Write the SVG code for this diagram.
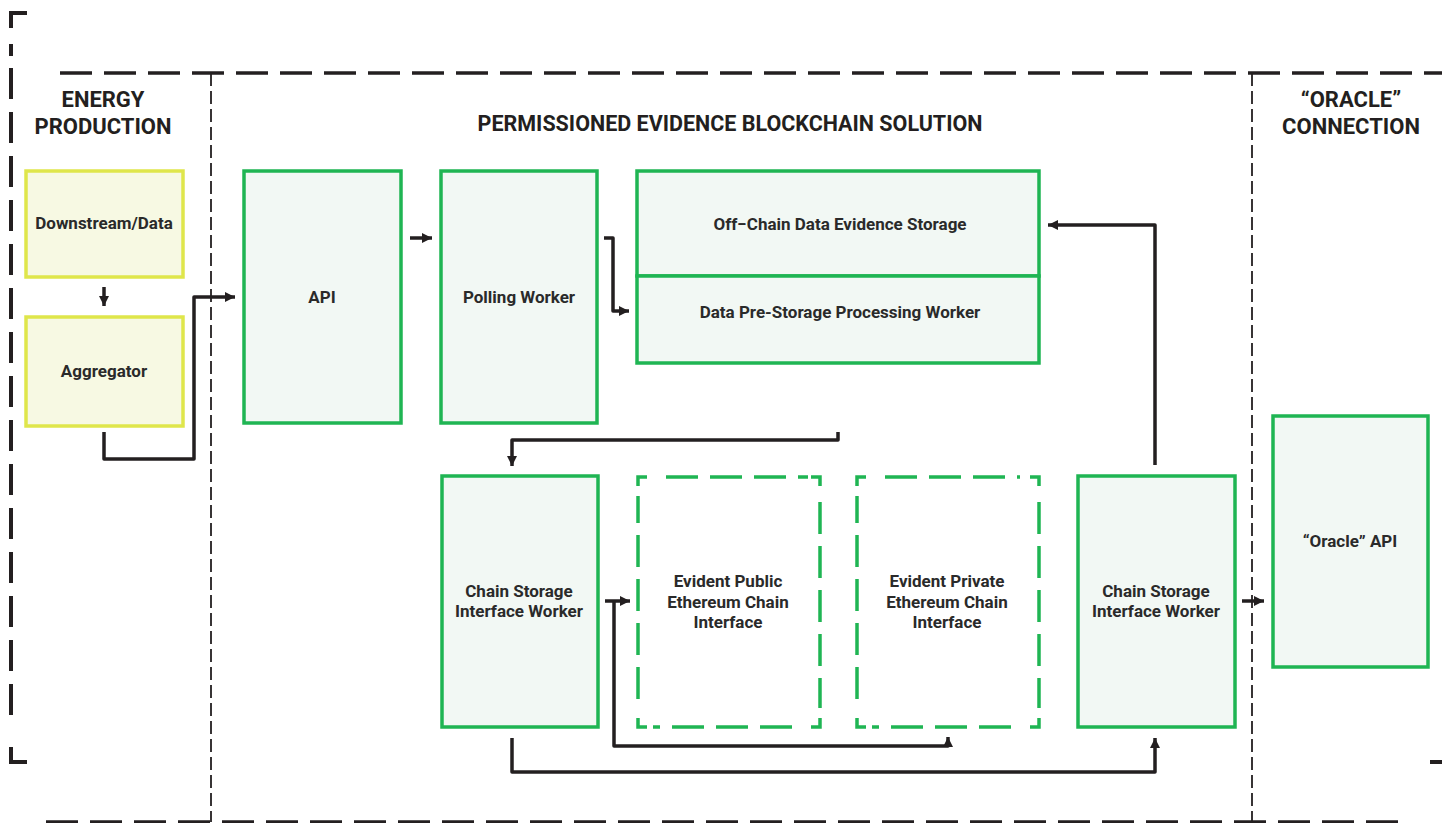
<svg xmlns="http://www.w3.org/2000/svg" width="1442" height="823" viewBox="0 0 1442 823">
<style>
.frame{fill:none;stroke:#231f20;stroke-width:4}
.inner{fill:none;stroke:#231f20;stroke-width:3.5;stroke-dasharray:32 12}
.divider{fill:none;stroke:#231f20;stroke-width:1.8;stroke-dasharray:13 5}
.hdr{font-family:Roboto,"Liberation Sans",sans-serif;font-weight:700;font-size:22px;fill:#231f20;text-anchor:middle}
.lbl{font-family:Roboto,"Liberation Sans",sans-serif;font-weight:700;font-size:17px;fill:#2a2a2a;text-anchor:middle}
.yel{fill:#f7f9e3;stroke:#dfe64b;stroke-width:3.5}
.grn{fill:#f2f8f4;stroke:#1fb553;stroke-width:3.5}
.gcorner{fill:none;stroke:#1fb553;stroke-width:3.5}
.gside{fill:none;stroke:#1fb553;stroke-width:3.5;stroke-dasharray:32 12}
.conn{fill:none;stroke:#231f20;stroke-width:3.5;stroke-linejoin:round}
</style>
<defs>
<marker id="ah" markerUnits="userSpaceOnUse" markerWidth="13" markerHeight="13" refX="10" refY="5.5" orient="auto">
<path d="M0,0.5 L10,5.5 L0,10.5 z" fill="#231f20"/>
</marker>
</defs>

<g id="frames">
<path class="frame" d="M27,13 H11 V28"/>
<path class="frame" d="M11,44 V56"/>
<path class="frame" d="M11,68 V716" stroke-dasharray="31 13"/>
<path class="frame" d="M11,747 V762 H27"/>
<path class="frame" d="M1430,762 H1442"/>
<path class="inner" d="M60,73 H1442"/>
<path class="inner" d="M46,822 H1398"/>
<path class="divider" d="M211,73 V822"/>
<path class="divider" d="M1252,73 V822"/>
</g>

<g id="headers">
<text class="hdr" x="103" y="107">ENERGY</text>
<text class="hdr" x="103" y="134">PRODUCTION</text>
<text class="hdr" x="730" y="131" style="font-size:21.5px">PERMISSIONED EVIDENCE BLOCKCHAIN SOLUTION</text>
<text class="hdr" x="1351" y="107">“ORACLE”</text>
<text class="hdr" x="1351" y="134">CONNECTION</text>
</g>

<g id="connectors">
<path class="conn" d="M104,287 V306" marker-end="url(#ah)"/>
<path class="conn" d="M104,432 V459 H194 V297 H235" marker-end="url(#ah)"/>
<path class="conn" d="M410,238 H432" marker-end="url(#ah)"/>
<path class="conn" d="M604,238 H613 V311 H629" marker-end="url(#ah)"/>
<path class="conn" d="M838,432 V440 H512 V466" marker-end="url(#ah)"/>
<path class="conn" d="M1155,465 V225 H1048" marker-end="url(#ah)"/>
<path class="conn" d="M605,601 H630" marker-end="url(#ah)"/>
<path class="conn" d="M614,601 V746 H948 V737" marker-end="url(#ah)"/>
<path class="conn" d="M512,738 V772 H1155 V738" marker-end="url(#ah)"/>
<path class="conn" d="M1242,601 H1264" marker-end="url(#ah)"/>
</g>

<g id="downstream">
<rect class="yel" x="26" y="171" width="157" height="106"/>
<text class="lbl" x="104" y="229">Downstream/Data</text>
</g>
<g id="aggregator">
<rect class="yel" x="26" y="317" width="157" height="109"/>
<text class="lbl" x="104" y="377">Aggregator</text>
</g>
<g id="api">
<rect class="grn" x="244" y="171" width="157" height="252"/>
<text class="lbl" x="322" y="303">API</text>
</g>
<g id="polling">
<rect class="grn" x="441" y="171" width="156" height="252"/>
<text class="lbl" x="519" y="303">Polling Worker</text>
</g>
<g id="offchain">
<rect class="grn" x="637" y="171" width="402" height="105"/>
<text class="lbl" x="840" y="230">Off−Chain Data Evidence Storage</text>
</g>
<g id="prestorage">
<rect class="grn" x="637" y="276" width="402" height="87"/>
<text class="lbl" x="840" y="318">Data Pre-Storage Processing Worker</text>
</g>
<g id="csiw-left">
<rect class="grn" x="442" y="476" width="156" height="251"/>
<text class="lbl" x="519" y="597">Chain Storage</text>
<text class="lbl" x="519" y="617">Interface Worker</text>
</g>
<g id="public">
<path class="gcorner" d="M638,486 V477 H647 M811,477 H820 V486 M820,718 V727 H811 M647,727 H638 V718"/>
<path class="gside" d="M666,477 H808"/>
<path class="gside" d="M820,502 V708"/>
<path class="gside" d="M792,727 H653" stroke-dasharray="32 12 32 12 32 12 32 12 2 40"/>
<path class="gside" d="M638,699 V496"/>
<text class="lbl" x="728" y="587">Evident Public</text>
<text class="lbl" x="728" y="608">Ethereum Chain</text>
<text class="lbl" x="728" y="628">Interface</text>
</g>
<g id="private">
<path class="gcorner" d="M857,486 V477 H866 M1030,477 H1039 V486 M1039,718 V727 H1030 M866,727 H857 V718"/>
<path class="gside" d="M885,477 H1020" stroke-dasharray="32 12 32 12 32 12 2 40"/>
<path class="gside" d="M1039,502 V708"/>
<path class="gside" d="M1011,727 H872" stroke-dasharray="32 12 32 12 32 12 32 12 2 40"/>
<path class="gside" d="M857,699 V496"/>
<text class="lbl" x="947" y="587">Evident Private</text>
<text class="lbl" x="947" y="608">Ethereum Chain</text>
<text class="lbl" x="947" y="628">Interface</text>
</g>
<g id="csiw-right">
<rect class="grn" x="1078" y="476" width="157" height="251"/>
<text class="lbl" x="1156" y="597">Chain Storage</text>
<text class="lbl" x="1156" y="617">Interface Worker</text>
</g>
<g id="oracle-api">
<rect class="grn" x="1273" y="416" width="155" height="251"/>
<text class="lbl" x="1350" y="547">“Oracle” API</text>
</g>
</svg>
